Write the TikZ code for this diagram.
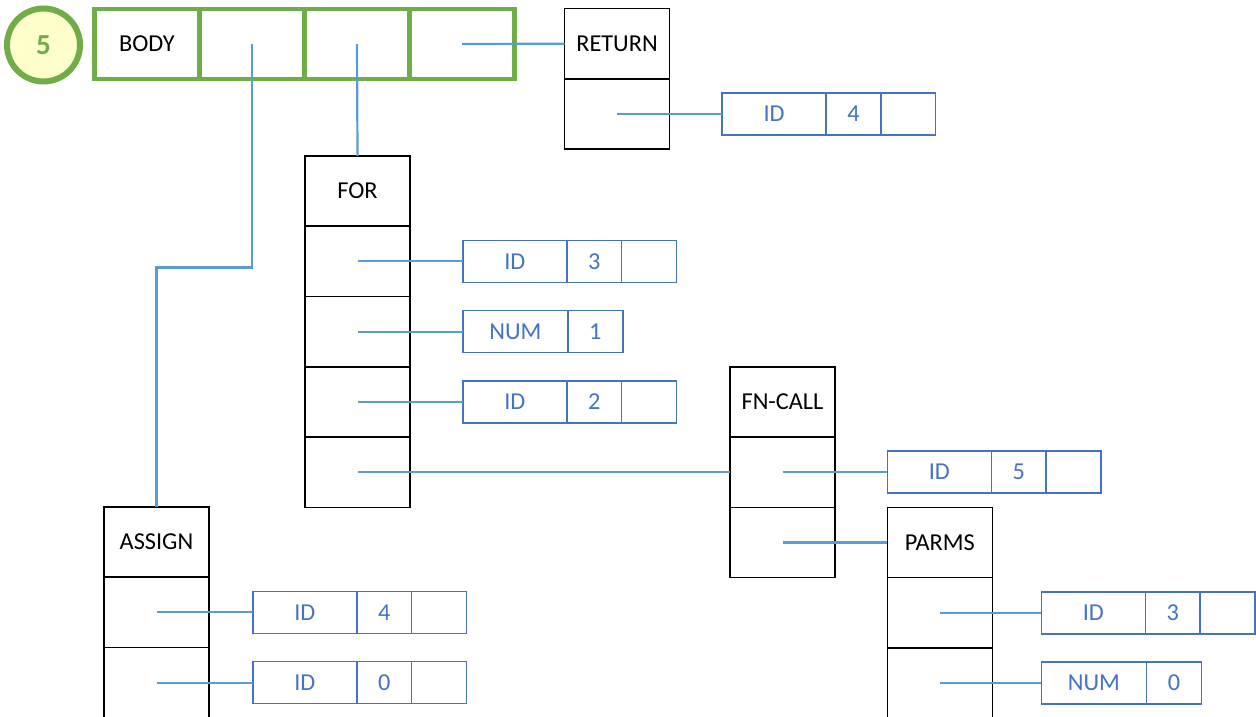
\documentclass[tikz,border=0pt]{standalone}
\usepackage{fontspec}
\setmainfont{Carlito}
\usetikzlibrary{positioning}
\definecolor{bodygreen}{HTML}{70AD47}
\definecolor{fieldblue}{HTML}{4472C4}
\definecolor{linkblue}{HTML}{5B9BD5}
\definecolor{badgefill}{HTML}{FFFFCC}

\begin{document}
\begin{tikzpicture}[
        x=1pt, y=-1pt,
        every node/.style={
            inner sep=0pt,
            outer sep=0pt,
            font=\fontsize{24.3}{29}\selectfont
        },
        tag/.style={
            draw=black,
            line width=1.6pt,
            minimum width=105pt,
            minimum height=70.3pt
        },
        bodycell/.style={
            draw=bodygreen,
            line width=4.5pt,
            minimum width=105pt,
            minimum height=70pt
        },
        field/.style={
            draw=fieldblue,
            text=fieldblue,
            line width=1.6pt,
            minimum width=104.2pt,
            minimum height=42pt
        },
        widefield/.style={
            field,
            minimum width=105.3pt
        },
        slot/.style={
            field,
            minimum width=54.7pt
        },
        link/.style={
            draw=linkblue,
            line width=2.2pt
        },
        badge/.style={
            circle,
            draw=bodygreen,
            fill=badgefill,
            line width=6pt,
            minimum size=73pt,
            text=bodygreen,
            font=\fontsize{29}{34}\selectfont\bfseries
        }
    ]

    \useasboundingbox (0,0) rectangle (1256,717);

    % Statement list
    \node[badge] (badge) at (43.5,45) {5};
    \node[bodycell] (body) at (147,44) {BODY};
    \node[bodycell, right=0pt of body] (bodyA) {};
    \node[bodycell, right=0pt of bodyA] (bodyB) {};
    \node[bodycell, right=0pt of bodyB] (bodyC) {};

    % Return statement
    \node[tag] (return) at (617,43.7) {RETURN};
    \node[tag, below=0pt of return] (returnval) {};
    \node[field, right=52.5pt of returnval] (retid) {ID};
    \node[slot, right=0pt of retid] (retidnum) {4};
    \node[slot, right=0pt of retidnum] (retidnext) {};

    % For loop
    \node[tag] (for) at (357.5,191) {FOR};
    \node[tag, below=0pt of for] (forvar) {};
    \node[tag, below=0pt of forvar] (forfrom) {};
    \node[tag, below=0pt of forfrom] (forto) {};
    \node[tag, below=0pt of forto] (forbody) {};
    \node[field, right=52.7pt of forvar] (varid) {ID};
    \node[slot, right=0pt of varid] (varidnum) {3};
    \node[slot, right=0pt of varidnum] (varidnext) {};
    \node[widefield, right=52.7pt of forfrom] (fromnum) {NUM};
    \node[slot, right=0pt of fromnum] (fromnumval) {1};
    \node[field, right=52.7pt of forto] (toid) {ID};
    \node[slot, right=0pt of toid] (toidnum) {2};
    \node[slot, right=0pt of toidnum] (toidnext) {};

    % Function call
    \node[tag, right=320pt of forto] (fncall) {FN-CALL};
    \node[tag, below=0pt of fncall] (fnname) {};
    \node[tag, below=0pt of fnname] (fnargs) {};
    \node[field, right=52.3pt of fnname] (callid) {ID};
    \node[slot, right=0pt of callid] (callidnum) {5};
    \node[slot, right=0pt of callidnum] (callidnext) {};

    % Parameters
    \node[tag, right=52.3pt of fnargs] (parms) {PARMS};
    \node[tag, below=0pt of parms] (parmfirst) {};
    \node[tag, below=0pt of parmfirst] (parmnext) {};
    \node[field, right=49pt of parmfirst] (parmid) {ID};
    \node[slot, right=0pt of parmid] (parmidnum) {3};
    \node[slot, right=0pt of parmidnum] (parmidnext) {};
    \node[widefield, right=49pt of parmnext] (parmnum) {NUM};
    \node[slot, right=0pt of parmnum] (parmnumval) {0};

    % Assignment
    \node[tag] (assign) at (156.5,542) {ASSIGN};
    \node[tag, below=0pt of assign] (assignlhs) {};
    \node[tag, below=0pt of assignlhs] (assignrhs) {};
    \node[field, right=43.7pt of assignlhs] (lhsid) {ID};
    \node[slot, right=0pt of lhsid] (lhsidnum) {4};
    \node[slot, right=0pt of lhsidnum] (lhsidnext) {};
    \node[field, right=43.7pt of assignrhs] (rhsid) {ID};
    \node[slot, right=0pt of rhsid] (rhsidnum) {0};
    \node[slot, right=0pt of rhsidnum] (rhsidnext) {};

    % Links
    \draw[link] (bodyA.center) -- ++(0,223.5) -| (assign.north);
    \draw[link] (bodyB.center) -- (for.north);
    \draw[link] (bodyC.center) -- (return.west);
    \draw[link] (returnval.center) -- (retid.west);
    \draw[link] (forvar.center) -- (varid.west);
    \draw[link] (forfrom.center) -- (fromnum.west);
    \draw[link] (forto.center) -- (toid.west);
    \draw[link] (forbody.center) -- (fnname.west);
    \draw[link] (fnname.center) -- (callid.west);
    \draw[link] (fnargs.center) -- (parms.west);
    \draw[link] (parmfirst.center) -- (parmid.west);
    \draw[link] (parmnext.center) -- (parmnum.west);
    \draw[link] (assignlhs.center) -- (lhsid.west);
    \draw[link] (assignrhs.center) -- (rhsid.west);

\end{tikzpicture}
\end{document}
